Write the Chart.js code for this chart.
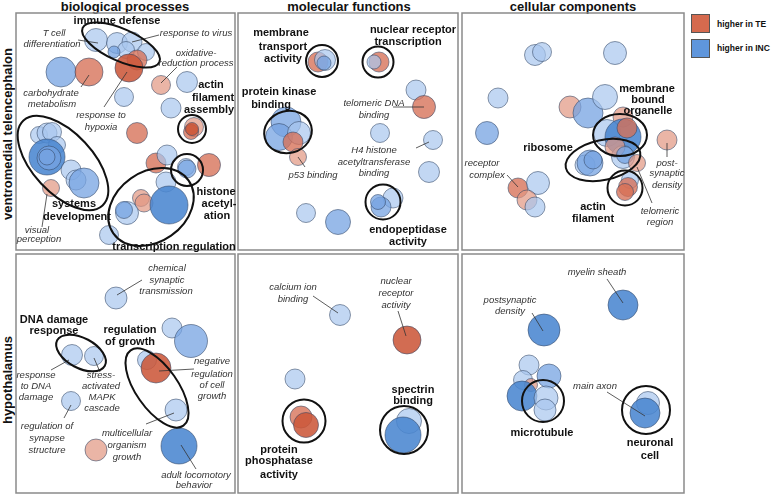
<!DOCTYPE html>
<html>
<head>
<meta charset="utf-8">
<script src="https://cdn.jsdelivr.net/npm/chart.js@4.4.1/dist/chart.umd.min.js"></script>
<style>
  body { margin: 0; width: 778px; height: 495px; overflow: hidden; background: #fff; position: relative;
         font-family: "Liberation Sans", Arial, sans-serif; }
  canvas { position: absolute; }
  .hd { position: absolute; top: 0; font-weight: bold; font-size: 13px; line-height: 13px; transform: translateX(-50%); white-space: nowrap; color: #111; }
  .row { position: absolute; font-weight: bold; font-size: 13px; line-height: 13px; white-space: nowrap; color: #111;
         transform: translate(-50%, -50%) rotate(-90deg); }
  .sw { position: absolute; width: 17px; height: 17px; border: 1px solid #555; }
  .lt { position: absolute; font-weight: bold; font-size: 8.5px; line-height: 10px; white-space: nowrap; color: #111; }
</style>
</head>
<body>
<div class="hd" style="left:125px">biological processes</div>
<div class="hd" style="left:349px">molecular functions</div>
<div class="hd" style="left:573px">cellular components</div>
<div class="row" style="left:7px;top:134px">ventromedial telencephalon</div>
<div class="row" style="left:7px;top:380px">hypothalamus</div>
<div class="sw" style="left:691px;top:14px;background:#d56a4e"></div>
<div class="lt" style="left:717px;top:19px">higher in TE</div>
<div class="sw" style="left:691px;top:39px;background:#5f96dc"></div>
<div class="lt" style="left:717px;top:43px">higher in INC</div>

<script>
// bubbles: [x, y, radius, level]  level > 0 higher in INC, < 0 higher in TE (1..3 = strength)
const vtBio = [
  [80,27,11.5,1],[101,30,10.5,1],[116,29,10,1],[110,37,8.5,1],[130,39,8.5,1],[98,39,6,2],
  [121,47,10,-2],[113,55,14,-3],
  [45,59,15,2],[73,59,14,-2],
  [108,84,9.5,1],[145,72,9.5,-1],[171,69,10.5,1],[155,95,10,1],[121,120,10.5,-2],
  [178,114,9.5,-1],[175,119,7.5,-2],[176,116,6.5,-3],
  [23,122,8.5,1],[31,120,10,1],[36,119,9.5,1],[41,132,8.5,1],[31,144,18,3],[33,145,12,2],[31,144,8,2],
  [55,157,10,1],[60,167,10,1],[68,170,15,2],[35,175,8.5,-1],
  [140,150,10,-2],[151,142,10,1],[193,152,11.5,-2],[170,154,8.5,1],[171,156,9,2],
  [150,169,10,1],[125,185,8.5,-1],[128,190,9,-1],[111,200,11.5,1],[108,197,8.5,2],[153,192,19,3],[93,222,9.5,1]
];
const vtMol = [
  [80,49,10,-2],[87,47,10.5,1],[86,50,7,2],
  [141,49,10,-2],[136,49,7,1],
  [48,109,15,2],[41,124,13.5,2],[61,120,11.5,1],[55,129,10,-2],[60,144,8.5,-1],
  [178,77,10,1],[186,94,11.5,-2],[142,120,9.5,1],[195,127,9.5,1],[191,159,10.5,1],
  [155,185,10,1],[143,194,10,2],[140,189,7.5,2],
  [68,200,9.5,1],[100,209,12.5,2]
];
const vtCell = [
  [73,42,10.5,1],[80,39,9.5,1],[153,40,11.5,1],[36,85,10,1],[25,120,11.5,2],
  [108,94,11,-1],[126,100,15,2],[143,84,12.5,1],[161,104,10,-1],[145,120,13.5,1],[161,124,18,3],[165,115,10,-2],[205,127,10,-1],
  [123,152,10,1],[128,150,13,2],[131,147,9,2],[161,144,11.5,1],[153,134,10,-1],[163,142,8.5,2],[175,150,8.5,-1],
  [168,167,8.5,1],[166,174,9.5,-2],[163,179,8.5,-2],
  [56,175,10,-2],[76,170,11.5,1],[65,187,10,-1],[73,194,10,1]
];
const hyBio = [
  [100,44,11,1],[56,101,10.5,1],[78,102,9.5,1],[55,147,9.5,1],[80,196,11,-1],
  [156,74,10,1],[175,87,16.5,2],
  [131,106,9.5,1],[140,114,15,-3],[160,156,11,1],[163,192,18,3]
];
const hyMol = [
  [102,61,10.5,1],[169,86,14,-3],[57,125,10,1],[63,163,11,-2],[68,171,12.5,-3],[171,167,12.5,1],[165,181,18,3]
];
const hyCell = [
  [161,51,15,3],[82,76,16,3],[67,111,10,1],[61,126,9.5,1],[87,122,12,2],[69,131,6.5,-1],
  [60,142,15,3],[84,144,12,1],[83,156,11,1],[186,149,11.5,1],[183,159,15,3]
];

const shade = {
  '1': 'rgba(168,198,238,0.7)', '2': 'rgba(118,163,225,0.75)', '3': 'rgba(74,134,208,0.88)',
  '-1': 'rgba(225,150,128,0.7)', '-2': 'rgba(214,112,86,0.78)', '-3': 'rgba(204,88,58,0.88)'
};

// annotation layout for each panel: labels [text, x, y, kind], leader lines, rings [cx, cy, rx, ry, deg]
const vtBioNotes = {
  rings: [[105,32,42,16,24],[47,150,58,30,47],[135,194,46,35,-35],[171,157,16,16,0],[176,116,14,14,0]],
  leaders: [[62,27,82,30],[143,22,116,29],[161,54,145,70],[65,74,73,62],[88,94,111,59],[26,214,31,181]],
  labels: [['immune defense',101,8,'b'],['T cell',38,20,'i'],['differentiation',36,31,'i'],['response to virus',180,20,'i'],
    ['oxidative-',180,40,'i'],['reduction process',180,50,'i'],['carbohydrate',35,80,'i'],['metabolism',36,91,'i'],
    ['response to',85,102,'i'],['hypoxia',85,114,'i'],['actin',195,72,'b'],['filament',197,85,'b'],['assembly',193,97,'b'],
    ['systems',58,191,'b'],['development',61,204,'b'],['visual',21,217,'i'],['perception',23,226,'i'],
    ['histone',200,179,'b'],['acetyl-',203,191,'b'],['ation',201,203,'b'],['transcription regulation',158,234,'b']]
};
const vtMolNotes = {
  rings: [[84,48,16,16,0],[140,49,15.5,15.5,0],[50,119,24,21,-15],[145,189,17.5,17.5,0]],
  leaders: [[67,154,60,144],[155,94,186,94],[178,135,191,129]],
  labels: [['membrane',43,20,'b'],['transport',45,34,'b'],['activity',45,46,'b'],['nuclear receptor',175,17,'b'],
    ['transcription',170,29,'b'],['protein kinase',41,79,'b'],['binding',33,92,'b'],['p53 binding',75,162,'i'],
    ['telomeric DNA',136,90,'i'],['binding',136,102,'i'],['H4 histone',136,137,'i'],['acetyltransferase',136,149,'i'],
    ['binding',136,160,'i'],['endopeptidase',170,217,'b'],['activity',170,229,'b']]
};
const vtCellNotes = {
  rings: [[158,122,27,21,0],[141,147,38,20,-12],[163,175,17.5,17.5,0]],
  leaders: [[205,144,205,130],[190,190,175,154],[45,162,56,174]],
  labels: [['membrane',185,76,'b'],['bound',186,87,'b'],['organelle',186,98,'b'],['ribosome',86,135,'b'],
    ['post-',205,150,'i'],['synaptic',205,160,'i'],['density',205,172,'i'],['receptor',20,150,'i'],['complex',25,162,'i'],
    ['actin',131,194,'b'],['filament',131,206,'b'],['telomeric',198,198,'i'],['region',198,209,'i']]
};
const hyBioNotes = {
  rings: [[65,99,27,15,28],[141,134,46,21,55]],
  leaders: [[101,41,126,26],[35,116,53,106],[84,118,78,104],[48,164,55,151],[130,170,158,159],[178,115,143,117],[180,215,165,191]],
  labels: [['chemical',151,14,'i'],['synaptic',151,26,'i'],['transmission',150,37,'i'],['DNA damage',38,66,'b'],['response',38,77,'b'],
    ['regulation',114,76,'b'],['of growth',114,88,'b'],['response',20,121,'i'],['to DNA',20,132,'i'],['damage',20,143,'i'],
    ['stress-',85,121,'i'],['activated',85,132,'i'],['MAPK',86,143,'i'],['cascade',86,154,'i'],
    ['regulation of',31,172,'i'],['synapse',31,184,'i'],['structure',31,196,'i'],
    ['multicellular',111,179,'i'],['organism',111,191,'i'],['growth',111,203,'i'],
    ['negative',196,107,'i'],['regulation',196,120,'i'],['of cell',196,131,'i'],['growth',196,142,'i'],
    ['adult locomotory',180,221,'i'],['behavior',178,231,'i']]
};
const hyMolNotes = {
  rings: [[66,167,21.5,21.5,0],[166,176,24,24,0]],
  leaders: [[75,42,100,59],[160,57,168,82]],
  labels: [['calcium ion',55,33,'i'],['binding',55,45,'i'],['nuclear',158,27,'i'],['receptor',158,39,'i'],['activity',158,51,'i'],
    ['protein',41,196,'b'],['phosphatase',41,207,'b'],['activity',41,221,'b'],['spectrin',175,136,'b'],['binding',175,147,'b']]
};
const hyCellNotes = {
  rings: [[81,147,21,21,0],[184,156,24,24,0]],
  leaders: [[145,25,161,49],[70,59,81,77],[145,138,183,162]],
  labels: [['myelin sheath',135,18,'i'],['postsynaptic',48,46,'i'],['density',48,57,'i'],['microtubule',80,179,'b'],
    ['main axon',133,132,'i'],['neuronal',188,189,'b'],['cell',188,202,'b']]
};

const M = 10;

function notesPlugin(n) {
  return {
    id: 'notes',
    afterDatasetsDraw(chart) {
      const { ctx, chartArea: a, scales: { x, y } } = chart;
      const px = v => x.getPixelForValue(v), py = v => y.getPixelForValue(v);
      ctx.save();
      ctx.strokeStyle = '#8a8a8a';
      ctx.lineWidth = 1.5;
      ctx.strokeRect(a.left, a.top, a.width, a.height);

      ctx.strokeStyle = '#333';
      ctx.lineWidth = 0.8;
      n.leaders.forEach(([x1, y1, x2, y2]) => {
        ctx.beginPath(); ctx.moveTo(px(x1), py(y1)); ctx.lineTo(px(x2), py(y2)); ctx.stroke();
      });

      ctx.strokeStyle = '#111';
      ctx.lineWidth = 2;
      n.rings.forEach(([cx, cy, rx, ry, deg]) => {
        ctx.beginPath();
        ctx.ellipse(px(cx), py(cy), px(rx) - px(0), py(ry) - py(0), deg * Math.PI / 180, 0, Math.PI * 2);
        ctx.stroke();
      });

      ctx.textAlign = 'center';
      ctx.textBaseline = 'middle';
      n.labels.forEach(([t, lx, ly, k]) => {
        if (k === 'b') { ctx.font = 'bold 11px "Liberation Sans", Arial'; ctx.fillStyle = '#111'; }
        else { ctx.font = 'italic 9.5px "Liberation Sans", Arial'; ctx.fillStyle = '#333'; }
        ctx.fillText(t, px(lx), py(ly));
      });
      ctx.restore();
    }
  };
}

function panel(bubbles, notes, left, top, w, h) {
  const cv = document.createElement('canvas');
  cv.width = w + 2 * M;
  cv.height = h + 2 * M;
  cv.style.left = (left - M) + 'px';
  cv.style.top = (top - M) + 'px';
  document.body.appendChild(cv);
  new Chart(cv.getContext('2d'), {
    type: 'bubble',
    data: {
      datasets: [{
        data: bubbles.map(b => ({ x: b[0], y: b[1], r: b[2] })),
        backgroundColor: bubbles.map(b => shade[b[3]]),
        borderColor: 'rgba(50,70,100,0.7)',
        borderWidth: 0.8,
        clip: false
      }]
    },
    options: {
      responsive: false,
      animation: false,
      events: [],
      layout: { padding: M, autoPadding: false },
      plugins: { legend: { display: false }, tooltip: { enabled: false } },
      scales: {
        x: { type: 'linear', min: 0, max: w, display: false },
        y: { type: 'linear', min: 0, max: h, reverse: true, display: false }
      }
    },
    plugins: [notesPlugin(notes)]
  });
}

panel(vtBio, vtBioNotes, 16, 13, 219, 237);
panel(vtMol, vtMolNotes, 238, 13, 220, 237);
panel(vtCell, vtCellNotes, 462, 13, 222, 237);
panel(hyBio, hyBioNotes, 16, 254, 219, 239);
panel(hyMol, hyMolNotes, 238, 254, 220, 239);
panel(hyCell, hyCellNotes, 462, 254, 222, 239);
</script>
</body>
</html>
